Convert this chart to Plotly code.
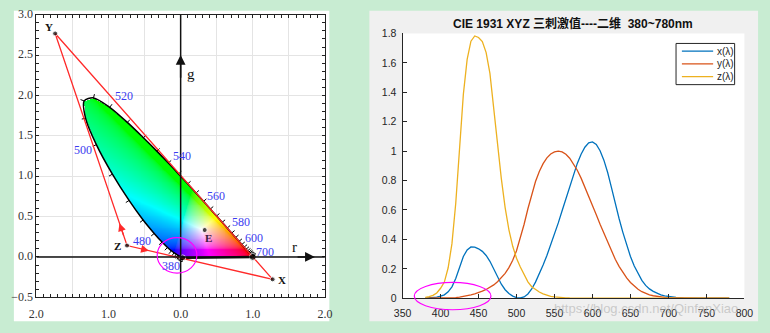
import numpy as np
import plotly.graph_objects as go

# ---------------- data ----------------
# CIE 1931 2-degree colour matching functions
wavelength = [380, 385, 390, 395, 400, 405, 410, 415, 420, 425, 430, 435, 440, 445, 450,
              455, 460, 465, 470, 475, 480, 485, 490, 495, 500, 505, 510, 515, 520, 525,
              530, 535, 540, 545, 550, 555, 560, 565, 570, 575, 580, 585, 590, 595, 600,
              605, 610, 615, 620, 625, 630, 635, 640, 645, 650, 655, 660, 665, 670, 675,
              680, 685, 690, 695, 700, 710, 720, 730, 740, 750, 760, 770, 780]
x_bar = [0.001368, 0.002236, 0.004243, 0.007650, 0.014310, 0.023190, 0.043510, 0.077630,
         0.134380, 0.214770, 0.283900, 0.328500, 0.348280, 0.348060, 0.336200, 0.318700,
         0.290800, 0.251100, 0.195360, 0.142100, 0.095640, 0.057950, 0.032010, 0.014700,
         0.004900, 0.002400, 0.009300, 0.029100, 0.063270, 0.109600, 0.165500, 0.225750,
         0.290400, 0.359700, 0.433450, 0.512050, 0.594500, 0.678400, 0.762100, 0.842500,
         0.916300, 0.978600, 1.026300, 1.056700, 1.062200, 1.045600, 1.002600, 0.938400,
         0.854450, 0.751400, 0.642400, 0.541900, 0.447900, 0.360800, 0.283500, 0.218700,
         0.164900, 0.121200, 0.087400, 0.063600, 0.046770, 0.032900, 0.022700, 0.015840,
         0.011359, 0.005790, 0.002899, 0.001440, 0.000690, 0.000332, 0.000166, 0.000083,
         0.000042]
y_bar = [0.000039, 0.000064, 0.000120, 0.000217, 0.000396, 0.000640, 0.001210, 0.002180,
         0.004000, 0.007300, 0.011600, 0.016840, 0.023000, 0.029800, 0.038000, 0.048000,
         0.060000, 0.073900, 0.090980, 0.112600, 0.139020, 0.169300, 0.208020, 0.258600,
         0.323000, 0.407300, 0.503000, 0.608200, 0.710000, 0.793200, 0.862000, 0.914850,
         0.954000, 0.980300, 0.994950, 1.000000, 0.995000, 0.978600, 0.952000, 0.915400,
         0.870000, 0.816300, 0.757000, 0.694900, 0.631000, 0.566800, 0.503000, 0.441200,
         0.381000, 0.321000, 0.265000, 0.217000, 0.175000, 0.138200, 0.107000, 0.081600,
         0.061000, 0.044580, 0.032000, 0.023200, 0.017000, 0.011920, 0.008210, 0.005723,
         0.004102, 0.002091, 0.001047, 0.000520, 0.000249, 0.000120, 0.000060, 0.000030,
         0.000015]
z_bar = [0.006450, 0.010550, 0.020050, 0.036210, 0.067850, 0.110200, 0.207400, 0.371300,
         0.645600, 1.039050, 1.385600, 1.622960, 1.747060, 1.782600, 1.772110, 1.744100,
         1.669200, 1.528100, 1.287640, 1.041900, 0.812950, 0.616200, 0.465180, 0.353300,
         0.272000, 0.212300, 0.158200, 0.111700, 0.078250, 0.057250, 0.042160, 0.029840,
         0.020300, 0.013400, 0.008750, 0.005750, 0.003900, 0.002750, 0.002100, 0.001800,
         0.001650, 0.001400, 0.001100, 0.001000, 0.000800, 0.000600, 0.000340, 0.000240,
         0.000190, 0.000100, 0.000050, 0.000030, 0.000020, 0.000010, 0.000000, 0.0, 0.0,
         0.0, 0.0, 0.0, 0.0, 0.0, 0.0, 0.0, 0.0, 0.0, 0.0, 0.0, 0.0, 0.0, 0.0, 0.0, 0.0]
series_names = ["x(λ)", "y(λ)", "z(λ)"]

# left chart: imaginary primaries X, Y, Z and equal-energy point E in (r, g)
prim_names = ["X", "Y", "Z"]
prim_r = [1.2750, -1.7393, -0.7431]
prim_g = [-0.2778, 2.7673, 0.1409]
e_r, e_g = [0.3333], [0.3333]

# wavelength labels on the locus
label_wl = ["380", "480", "500", "520", "540", "560", "580", "600", "700"]
label_r = [-0.13, -0.54, -1.36, -0.79, 0.02, 0.49, 0.83, 1.02, 1.17]
label_g = [-0.115, 0.20, 1.32, 1.99, 1.25, 0.76, 0.43, 0.23, 0.065]

# ---------------- derived: spectral locus in CIE rg ----------------
wl = np.array(wavelength)
XYZ = np.array([x_bar, y_bar, z_bar])
M_xyz2rgb = np.array([[2.36461, -0.89654, -0.46807],
                      [-0.51517, 1.42641, 0.08876],
                      [0.00520, -0.01441, 1.00920]])
RGB = M_xyz2rgb @ XYZ
ssum = RGB.sum(0)
loc_mask = wl <= 700
loc_r = (RGB[0] / ssum)[loc_mask]
loc_g = (RGB[1] / ssum)[loc_mask]

# ---------------- layout geometry ----------------
W, H = 770, 333
def px(x): return x / W
def py(y): return 1 - y / H

L_X = [28, 323.5]
L_Y = [7, 302]
R_X = [403, 753]
R_Y = [26.5, 303]
SX = (L_X[1] - L_X[0]) / 4.0     # px per r unit
SY = (L_Y[1] - L_Y[0]) / 3.5     # px per g unit

# ---------------- colour fill image ----------------
def inpoly(pxa, pya, vx, vy):
    inside = np.zeros(pxa.shape, bool)
    n = len(vx)
    j = n - 1
    with np.errstate(divide="ignore", invalid="ignore"):
        for i in range(n):
            xi, yi, xj, yj = vx[i], vy[i], vx[j], vy[j]
            cond = ((yi > pya) != (yj > pya)) & (pxa < (xj - xi) * (pya - yi) / (yj - yi) + xi)
            inside ^= np.nan_to_num(cond, nan=False).astype(bool)
            j = i
    return inside

dxi, dyi = 0.5 / SX, 0.5 / SY
xs = np.arange(-1.42, 1.06, dxi)
ys = np.arange(-0.06, 2.06, dyi)
RR, GG = np.meshgrid(xs, ys)
BB = 1 - RR - GG
M_rgb2xyz = np.array([[0.49, 0.31, 0.20], [0.17697, 0.81240, 0.01063], [0.0, 0.01, 0.99]])
M_xyz2srgb = np.array([[3.2406, -1.5372, -0.4986], [-0.9689, 1.8758, 0.0415], [0.0557, -0.2040, 1.0570]])
Mc = M_xyz2srgb @ M_rgb2xyz
lin = np.tensordot(Mc, np.stack([RR, GG, BB]), axes=1)
lin = np.clip(lin, 0, None)
mx = lin.max(0)
mx[mx == 0] = 1
lin = lin / mx
srgb = np.where(lin <= 0.0031308, 12.92 * lin, 1.055 * np.power(lin, 1 / 2.4) - 0.055)
inside = inpoly(RR, GG, loc_r, loc_g)
img = np.zeros(RR.shape + (4,), dtype=np.uint8)
img[..., 0] = (srgb[0] * 255).astype(np.uint8)
img[..., 1] = (srgb[1] * 255).astype(np.uint8)
img[..., 2] = (srgb[2] * 255).astype(np.uint8)
img[..., 3] = np.where(inside, 255, 0)

# locus tick marks (outward, every 5 nm)
u, v = loc_r * SX, loc_g * SY
du = np.gradient(u); dv = np.gradient(v)
nrm = np.hypot(du, dv); nrm[nrm == 0] = 1
nu, nv = -dv / nrm, du / nrm
tick_len = 4.0
tx, ty = [], []
for k in range(len(u)):
    tx += [loc_r[k], (u[k] + nu[k] * tick_len) / SX, None]
    ty += [loc_g[k], (v[k] + nv[k] * tick_len) / SY, None]

# ---------------- figure ----------------
fig = go.Figure()

fig.add_trace(go.Image(z=img, colormodel="rgba256", x0=xs[0], y0=ys[0], dx=dxi, dy=dyi,
                       xaxis="x", yaxis="y", hoverinfo="skip"))
fig.add_trace(go.Scatter(x=tx, y=ty, mode="lines", line=dict(color="black", width=1),
                         xaxis="x", yaxis="y", hoverinfo="skip", showlegend=False))
fig.add_trace(go.Scatter(x=list(loc_r), y=list(loc_g), mode="lines",
                         line=dict(color="black", width=1.5, shape="spline", smoothing=0.8),
                         xaxis="x", yaxis="y", hoverinfo="skip", showlegend=False))
fig.add_trace(go.Scatter(x=[loc_r[-1], loc_r[0]], y=[loc_g[-1], loc_g[0]], mode="lines",
                         line=dict(color="black", width=2.4), xaxis="x", yaxis="y",
                         hoverinfo="skip", showlegend=False))
# red XYZ triangle
tri_r = [prim_r[1], prim_r[0], prim_r[2], prim_r[1]]
tri_g = [prim_g[1], prim_g[0], prim_g[2], prim_g[1]]
fig.add_trace(go.Scatter(x=tri_r, y=tri_g, mode="lines", line=dict(color="#ff2a2a", width=1.3),
                         xaxis="x", yaxis="y", hoverinfo="skip", showlegend=False))
fig.add_trace(go.Scatter(x=prim_r + e_r + [loc_r[0], loc_r[-1]], y=prim_g + e_g + [loc_g[0], loc_g[-1]],
                         mode="markers", marker=dict(color="black", size=[5, 5, 5, 5, 6, 7]),
                         xaxis="x", yaxis="y", hoverinfo="skip", showlegend=False))

# right chart curves
colors = ["#0072BD", "#D95319", "#EDB120"]
for name, vals, c in zip(series_names, [x_bar, y_bar, z_bar], colors):
    fig.add_trace(go.Scatter(x=wavelength, y=vals, mode="lines", name=name,
                             line=dict(color=c, width=1.3), xaxis="x2", yaxis="y2",
                             showlegend=False))

serif = "Liberation Serif, Times New Roman, serif"
sans = "Liberation Sans, Arial, Noto Sans CJK SC, sans-serif"

shapes = [
    dict(type="rect", xref="paper", yref="paper", x0=px(5), x1=px(328), y0=py(327), y1=py(3),
         fillcolor="white", line=dict(width=0), layer="below"),
    dict(type="rect", xref="paper", yref="paper", x0=px(369), x1=px(767), y0=py(327), y1=py(3),
         fillcolor="#f0f0f0", line=dict(width=0), layer="below"),
    dict(type="rect", xref="paper", yref="paper", x0=px(R_X[0]), x1=px(R_X[1]), y0=py(R_Y[1]), y1=py(R_Y[0]),
         fillcolor="white", line=dict(width=0), layer="below"),
    # left axes through origin
    dict(type="line", xref="x", yref="y", x0=0, x1=0, y0=-0.5, y1=3.0,
         line=dict(color="#111", width=1.5), layer="above"),
    dict(type="line", xref="x", yref="y", x0=-2, x1=2, y0=0, y1=0,
         line=dict(color="#111", width=1.5), layer="above"),
    # magenta ellipses
    dict(type="circle", xref="x", yref="y", x0=-0.325, x1=0.225, y0=-0.2, y1=0.24,
         line=dict(color="#ff00ff", width=1.2), layer="above"),
    dict(type="circle", xref="paper", yref="paper", x0=px(415), x1=px(493.5), y0=py(315), y1=py(286.5),
         line=dict(color="#ff00ff", width=1.2), layer="above"),
    # manual legend (right)
    dict(type="rect", xref="paper", yref="paper", x0=px(683), x1=px(743), y0=py(80), y1=py(37),
         fillcolor="white", line=dict(color="#262626", width=1)),
]
legend_rows = [45, 58.3, 71.7]
for yy, c in zip(legend_rows, colors):
    shapes.append(dict(type="line", xref="paper", yref="paper", x0=px(689), x1=px(721),
                       y0=py(yy), y1=py(yy), line=dict(color=c, width=1.3)))

ann = []
for name, yy in zip(series_names, legend_rows):
    ann.append(dict(xref="paper", yref="paper", x=px(723), y=py(yy), text=name, showarrow=False,
                    xanchor="left", yanchor="middle", font=dict(family=sans, size=10, color="#262626")))
ann.append(dict(xref="paper", yref="paper", x=px(578), y=py(16),
                text="<b>CIE 1931 XYZ 三刺激值----二维  380~780nm</b>", showarrow=False,
                xanchor="center", yanchor="middle", font=dict(family=sans, size=12, color="#111")))
ann.append(dict(xref="paper", yref="paper", x=px(652), y=py(314), text="https://blog.csdn.net/QinfanXiao",
                showarrow=False, xanchor="center", yanchor="middle",
                font=dict(family=sans, size=13, color="rgba(175,175,175,0.6)")))
# wavelength labels
for t, xr, yg in zip(label_wl, label_r, label_g):
    ann.append(dict(xref="x", yref="y", x=xr, y=yg, text=t, showarrow=False,
                    font=dict(family=serif, size=12, color="#3b3bf0")))
# primary labels
prim_lab_pos = {"X": (1.40, -0.29), "Y": (-1.83, 2.85), "Z": (-0.88, 0.13)}
for n in prim_names:
    ann.append(dict(xref="x", yref="y", x=prim_lab_pos[n][0], y=prim_lab_pos[n][1], text="<b>%s</b>" % n,
                    showarrow=False, font=dict(family=serif, size=11, color="#111")))
ann.append(dict(xref="x", yref="y", x=0.38, y=0.23, text="<b>E</b>", showarrow=False,
                font=dict(family=serif, size=11, color="#3a1a40")))
ann.append(dict(xref="x", yref="y", x=1.585, y=0.12, text="r", showarrow=False,
                font=dict(family=serif, size=15, color="#111")))
ann.append(dict(xref="x", yref="y", x=0.14, y=2.26, text="g", showarrow=False,
                font=dict(family=serif, size=15, color="#111")))
# axis arrowheads
ann.append(dict(xref="x", yref="y", axref="x", ayref="y", x=1.86, y=0, ax=1.6, ay=0, text="",
                showarrow=True, arrowhead=2, arrowsize=1.3, arrowwidth=1.5, arrowcolor="#111"))
ann.append(dict(xref="x", yref="y", axref="x", ayref="y", x=0, y=2.5, ax=0, ay=2.2, text="",
                showarrow=True, arrowhead=2, arrowsize=1.3, arrowwidth=1.5, arrowcolor="#111"))
# red direction arrows along the triangle
zr, zg = prim_r[2], prim_g[2]
for (er, eg), t0, t1 in [((prim_r[1], prim_g[1]), 0.04, 0.105), ((prim_r[0], prim_g[0]), 0.09, 0.15)]:
    ann.append(dict(xref="x", yref="y", axref="x", ayref="y",
                    x=zr + (er - zr) * t1, y=zg + (eg - zg) * t1,
                    ax=zr + (er - zr) * t0, ay=zg + (eg - zg) * t0, text="",
                    showarrow=True, arrowhead=2, arrowsize=1.2, arrowwidth=1.3, arrowcolor="#ff2a2a"))

left_tick_font = dict(family=serif, size=12, color="#333")
fig.update_layout(
    width=W, height=H, margin=dict(l=0, r=0, t=0, b=0),
    paper_bgcolor="#c8ecd2", plot_bgcolor="rgba(0,0,0,0)",
    showlegend=False, shapes=shapes, annotations=ann,
    xaxis=dict(domain=[px(L_X[0]), px(L_X[1])], range=[-2, 2], anchor="y",
               tickmode="array", tickvals=[-2, -1.5, -1, -0.5, 0, 0.5, 1, 1.5, 2],
               ticktext=["2.0", "", "1.0", "", "0.0", "", "1.0", "", "2.0"],
               showgrid=True, gridcolor="#e4e4e4", gridwidth=1, zeroline=False,
               showline=True, linecolor="#222", linewidth=1, mirror="ticks",
               ticks="inside", ticklen=3, tickcolor="#222", tickfont=left_tick_font,
               ticklabelstandoff=5,
               minor=dict(tickmode="linear", tick0=0, dtick=0.1, ticks="inside", ticklen=3,
                          tickcolor="#222", showgrid=False),
               fixedrange=True),
    yaxis=dict(domain=[py(L_Y[1]), py(L_Y[0])], range=[-0.5, 3.0], anchor="x",
               tickmode="linear", tick0=0, dtick=0.5, tickformat=".1f",
               showgrid=True, gridcolor="#e4e4e4", gridwidth=1, zeroline=False,
               showline=True, linecolor="#222", linewidth=1, mirror="ticks",
               ticks="inside", ticklen=3, tickcolor="#222", tickfont=left_tick_font,
               ticklabelshift=-1,
               minor=dict(tickmode="linear", tick0=0, dtick=0.1, ticks="inside", ticklen=3,
                          tickcolor="#222", showgrid=False),
               scaleanchor=False, autorange=False, fixedrange=True),
    xaxis2=dict(domain=[px(R_X[0]), px(R_X[1])], range=[350, 800], anchor="y2",
                tickmode="linear", tick0=350, dtick=50, showgrid=False, zeroline=False,
                showline=True, linecolor="#262626", linewidth=1, ticks="inside", ticklen=4,
                tickcolor="#262626", tickfont=dict(family=sans, size=10.5, color="#262626"),
                ticklabelstandoff=5),
    yaxis2=dict(domain=[py(R_Y[1]), py(R_Y[0])], range=[0, 1.8], anchor="x2",
                tickmode="linear", tick0=0, dtick=0.2, showgrid=False, zeroline=False,
                showline=True, linecolor="#262626", linewidth=1, ticks="inside", ticklen=4,
                tickcolor="#262626", tickfont=dict(family=sans, size=10.5, color="#262626"),
                ticklabelstandoff=3),
)

fig.write_html("out.html")
